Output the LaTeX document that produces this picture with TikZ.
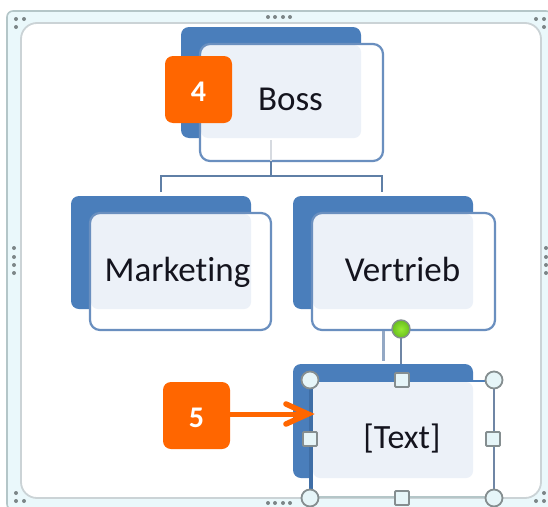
\documentclass[tikz,border=0pt]{standalone}
\usepackage{fontspec}
\setmainfont[Ligatures=NoCommon]{Carlito}
\definecolor{framefill}{HTML}{EAF8FB}
\definecolor{frameline}{HTML}{B4C6C8}
\definecolor{innerline}{HTML}{CBD3D6}
\definecolor{backblue}{HTML}{4A7EBB}
\definecolor{paleblue}{HTML}{ECF1F8}
\definecolor{edgeblue}{HTML}{6A8FBF}
\definecolor{linkblue}{HTML}{5F7FA6}
\definecolor{stublue}{HTML}{93A8C4}
\definecolor{selblue}{HTML}{3F6EA6}
\definecolor{selgray}{HTML}{6F86A5}
\definecolor{handlegray}{HTML}{858E90}
\definecolor{handlefill}{HTML}{E6F5F8}
\definecolor{badge}{HTML}{FF6600}
\definecolor{gripdot}{HTML}{7C8688}
\definecolor{labelink}{HTML}{14141E}
\tikzset{
  backbox/.style={fill=backblue,rounded corners=8},
  palebox/.style={fill=paleblue,rounded corners=7},
  frontbox/.style={draw=edgeblue,line width=2.2,rounded corners=10},
  linkline/.style={draw=linkblue,line width=2.4},
  label/.style={text=labelink,font=\fontsize{35}{38}\selectfont,inner sep=0,anchor=base},
  badgebox/.style={fill=badge,rounded corners=8,minimum size=67,inner sep=0,text=white,font=\bfseries\fontsize{30}{32}\selectfont},
  cornerhandle/.style={circle,draw=handlegray,fill=handlefill,line width=1.8,minimum size=17,inner sep=0},
  sidehandle/.style={rectangle,rounded corners=1,draw=handlegray,fill=handlefill,line width=1.8,minimum size=14,inner sep=0},
  grip/.style={fill=gripdot}
}
\begin{document}
\begin{tikzpicture}[x=1pt,y=-1pt]
\useasboundingbox (0,0) rectangle (548,506);
% frame
\draw[draw=frameline,fill=framefill,line width=1.6,rounded corners=6] (7,11) rectangle (552,510);
\draw[draw=innerline,fill=white,line width=1.8,rounded corners=16] (21,23) rectangle (541,498);
% grips
\foreach \p in {(16,19),(24,19),(16,27),(268,17),(275,17),(283,17),(290,17),(536,19),(544,19),(544,27),(14,248),(14,257),(14,265),(14,273),(546,248),(546,257),(546,265),(546,273),(16,493),(16,501),(24,501),(268,503),(275,503),(283,503),(290,503),(536,501),(544,501),(544,493)}
  {\fill[grip] \p circle (2);}
% connector points
\coordinate (busL) at (161,176);
\coordinate (busR) at (382,176);
\coordinate (busM) at (271,176);
% back plates
\fill[backbox] (181,27) rectangle (361,138);
\fill[backbox] (71,196) rectangle (251,309);
\fill[backbox] (293,196) rectangle (473,309);
\fill[backbox] (293,364) rectangle (473,478);
% front boxes
\fill[white,rounded corners=10] (200,44) rectangle (383,161);
\fill[white,rounded corners=10] (90,213) rectangle (271,330);
\fill[white,rounded corners=10] (312,213) rectangle (495,330);
\fill[white] (312,381) rectangle (494,497);
\fill[palebox] (201,45) rectangle (361,138);
\fill[palebox] (91,214) rectangle (251,309);
\fill[palebox] (313,214) rectangle (473,309);
\fill[palebox] (313,382) rectangle (473,478);
\draw[frontbox] (200,44) rectangle (383,161);
\draw[frontbox] (90,213) rectangle (271,330);
\draw[frontbox] (312,213) rectangle (495,330);
% labels
\node[label] (boss) at (290.5,110) {Boss};
\node[label] (marketing) at (177.5,281) {Marketing};
\node[label] (vertrieb) at (402.5,281) {Vertrieb};
\node[label,font=\fontsize{34}{37}\selectfont] (textn) at (402,448) {[Text]};
% links
\draw[draw=paleblue!80!gray,line width=1.2] (271,140) -- (271,161);
\draw[linkline] (busM) -- (271,161);
\draw[linkline] (161,192) -- (busL) -- (busR) -- (382,192);
\draw[draw=stublue,line width=3] (383,331) -- (383,361);
% selection
\draw[draw=selgray,line width=2.6] (401,331) -- (401,364);
\draw[draw=backblue,line width=2.6] (312,381) -- (493,381);
\draw[draw=selgray,line width=2.4] (494,381) -- (494,497);
\draw[draw=selblue,line width=3.5] (311,381) -- (311,497);
\draw[draw=frameline,line width=1.8] (311,497) -- (494,497);
\node[circle,draw=handlegray,line width=1.4,minimum size=18,inner sep=0,shade,inner color={rgb,255:red,150;green,235;blue,50},outer color={rgb,255:red,105;green,190;blue,30}] (rot) at (401,329) {};
\node[cornerhandle] (h1) at (310,380) {};
\node[cornerhandle] (h2) at (494,380) {};
\node[cornerhandle] (h3) at (310,498) {};
\node[cornerhandle] (h4) at (494,498) {};
\node[sidehandle] (h5) at (402,380) {};
\node[sidehandle] (h6) at (310,439) {};
\node[sidehandle] (h7) at (493,439) {};
\node[sidehandle] (h8) at (402,498) {};
% badges
\node[badgebox] (b4) at (198.5,89.5) {\raisebox{-12pt}[0pt][0pt]{4}};
\node[badgebox] (b5) at (196.5,415.5) {\raisebox{-12pt}[0pt][0pt]{5}};
\coordinate (tip) at (309,414);
\draw[draw=badge,line width=5] (b5.east |- tip) -- (tip);
\draw[draw=badge,line width=5.5,line cap=round,line join=miter] (286,404) -- (308,414) -- (286,424);
\end{tikzpicture}
\end{document}
